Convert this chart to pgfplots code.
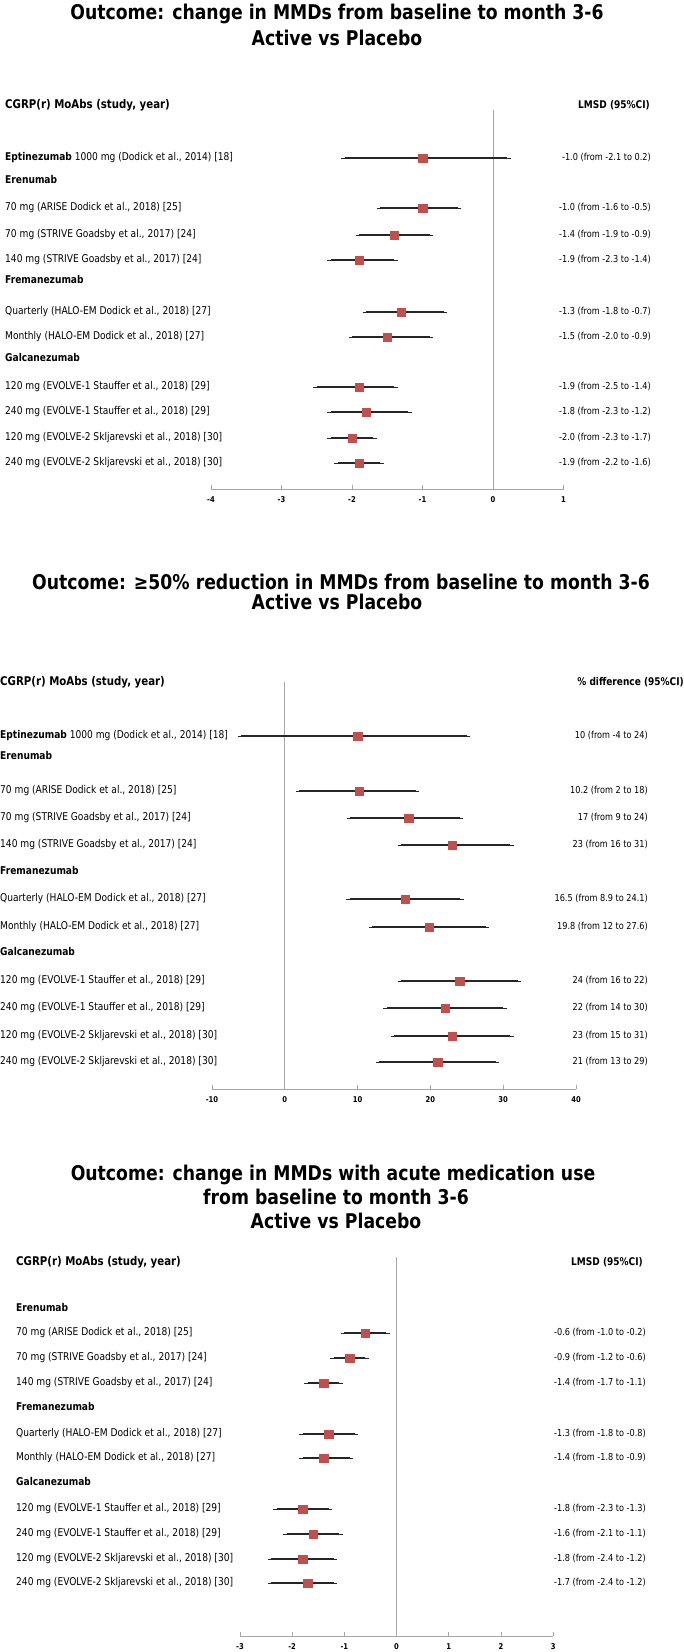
\documentclass[border=0pt]{standalone}
\usepackage{fontspec}
\setmainfont{DejaVu Sans}[FakeStretch=0.85]
\usepackage{pgfplots}
\usepackage{pgfplotstable}
\pgfplotsset{compat=1.18}

\definecolor{mk}{HTML}{C0504D}
\definecolor{ax}{HTML}{A6A6A6}
\definecolor{eb}{HTML}{262626}

% y = row position (pt from top, negative), est / lo / hi as drawn
\pgfplotstableread{
y est lo hi
-158 -1.0 -2.1 0.2
-208 -1.0 -1.6 -0.5
-235 -1.4 -1.9 -0.9
-260 -1.9 -2.3 -1.4
-312 -1.3 -1.8 -0.7
-337 -1.5 -2.0 -0.9
-387 -1.9 -2.5 -1.4
-412 -1.8 -2.3 -1.2
-438 -2.0 -2.3 -1.7
-463 -1.9 -2.2 -1.6
}\tabA

\pgfplotstableread{
y est lo hi
-736 10 -6 25
-791 10.2 2 18
-818 17 9 24
-845 23 16 31
-899 16.5 8.9 24.1
-927 19.8 12 27.6
-981 24 16 32
-1008 22 14 30
-1036 23 15 31
-1062 21 13 29
}\tabB

\pgfplotstableread{
y est lo hi
-1333 -0.6 -1.0 -0.2
-1358 -0.9 -1.2 -0.6
-1383 -1.4 -1.7 -1.1
-1434 -1.3 -1.8 -0.8
-1458 -1.4 -1.8 -0.9
-1509 -1.8 -2.3 -1.3
-1534 -1.6 -2.1 -1.1
-1559 -1.8 -2.4 -1.2
-1583 -1.7 -2.4 -1.2
}\tabC

\pgfplotsset{
  forest/.style={
    anchor=south west, y=1pt, enlargelimits=false, clip=false,
    axis x line=bottom, axis y line=none,
    axis line style={ax, line width=1pt, -},
    tick align=inside, major tick length=4pt,
    xtick style={ax, line width=1pt},
    xticklabel style={font=\fontsize{8}{9}\selectfont\bfseries, inner sep=2.5pt, yshift=-5pt},
  },
  ci/.style={
    only marks, mark=square*, mark size=4.2pt,
    mark options={fill=mk, draw=mk},
    error bars/x dir=both, error bars/x explicit,
    error bars/error bar style={eb, line width=1.2pt},
    error bars/error mark options={eb, line width=1pt, mark size=3.5pt},
  },
}

\newcommand\ciplot[1]{%
  \addplot[ci] table[x=est, y=y,
    x error plus expr=\thisrow{hi}-\thisrow{est},
    x error minus expr=\thisrow{est}-\thisrow{lo}] {#1};}

\begin{document}
\begin{tikzpicture}
\path[use as bounding box] (0,0) rectangle (684pt,-1652pt);

% panel 1
\begin{axis}[forest, at={(211pt,-489pt)}, x=70.5pt,
  xmin=-4, xmax=1, ymin=-489, ymax=-110,
  xtick={-4,-3,-2,-1,0,1}, xticklabels={-4,-3,-2,-1,0,1}]
\addplot[ax, line width=1pt] coordinates {(0,-489) (0,-110)};
\ciplot{\tabA}
\end{axis}

% panel 2
\begin{axis}[forest, at={(212pt,-1089pt)}, x=7.28pt,
  xmin=-10, xmax=40, ymin=-1089, ymax=-682,
  xtick={-10,0,10,20,30,40}, xticklabels={-10,0,10,20,30,40}]
\addplot[ax, line width=1pt] coordinates {(0,-1089) (0,-682)};
\ciplot{\tabB}
\end{axis}

% panel 3
\begin{axis}[forest, at={(240pt,-1636pt)}, x=52.2pt,
  xmin=-3, xmax=3, ymin=-1636, ymax=-1257,
  xtick={-3,-2,-1,0,1,2,3}, xticklabels={-3,-2,-1,0,1,2,3}]
\addplot[ax, line width=1pt] coordinates {(0,-1636) (0,-1257)};
\ciplot{\tabC}
\end{axis}

\begin{scope}[x=1pt, y=1pt, every node/.style={inner sep=0pt, text height=7.5pt, text depth=2pt}]
\def\tf{\fontsize{20.3}{23}\selectfont\bfseries}
\def\hf{\fontsize{12}{14}\selectfont\bfseries}
\def\hr{\fontsize{10.6}{12}\selectfont\bfseries}
\def\rf{\fontsize{10.7}{12}\selectfont}
\def\vf{\fontsize{9.6}{11}\selectfont}

% titles
\node[font=\tf, text height=15pt, text depth=4pt] at (337,-14) {Outcome: change in MMDs from baseline to month 3-6};
\node[font=\tf, text height=15pt, text depth=4pt] at (337,-40) {Active vs Placebo};
\node[font=\tf, text height=15pt, text depth=4pt] at (341,-584) {Outcome: ≥50\% reduction in MMDs from baseline to month 3-6};
\node[font=\tf, text height=15pt, text depth=4pt] at (337,-604) {Active vs Placebo};
\node[font=\tf, text height=15pt, text depth=4pt] at (333,-1175) {Outcome: change in MMDs with acute medication use};
\node[font=\tf, text height=15pt, text depth=4pt] at (336,-1199) {from baseline to month 3-6};
\node[font=\tf, text height=15pt, text depth=4pt] at (336,-1223) {Active vs Placebo};

% column headers
\node[font=\hf, anchor=west] at (5,-106) {CGRP(r) MoAbs (study, year)};
\node[font=\hr, anchor=east] at (650,-106) {LMSD (95\%CI)};
\node[font=\hf, anchor=west] at (0,-683) {CGRP(r) MoAbs (study, year)};
\node[font=\hr, anchor=east] at (684,-683) {\% difference (95\%CI)};
\node[font=\hf, anchor=west] at (16,-1263) {CGRP(r) MoAbs (study, year)};
\node[font=\hr, anchor=east] at (643,-1263) {LMSD (95\%CI)};

% panel 1 rows
\foreach \yy/\txt in {
  158/{\textbf{Eptinezumab} 1000 mg (Dodick et al., 2014) [18]},
  181/{\textbf{Erenumab}},
  208/{70 mg (ARISE Dodick et al., 2018) [25]},
  235/{70 mg (STRIVE Goadsby et al., 2017) [24]},
  260/{140 mg (STRIVE Goadsby et al., 2017) [24]},
  281/{\textbf{Fremanezumab}},
  312/{Quarterly (HALO-EM Dodick et al., 2018) [27]},
  337/{Monthly (HALO-EM Dodick et al., 2018) [27]},
  359/{\textbf{Galcanezumab}},
  387/{120 mg (EVOLVE-1 Stauffer et al., 2018) [29]},
  412/{240 mg (EVOLVE-1 Stauffer et al., 2018) [29]},
  438/{120 mg (EVOLVE-2 Skljarevski et al., 2018) [30]},
  463/{240 mg (EVOLVE-2 Skljarevski et al., 2018) [30]}}
  \node[font=\rf, anchor=west] at (5,-\yy) {\txt};
\foreach \yy/\txt in {
  158/{-1.0 (from -2.1 to 0.2)},
  208/{-1.0 (from -1.6 to -0.5)},
  235/{-1.4 (from -1.9 to -0.9)},
  260/{-1.9 (from -2.3 to -1.4)},
  312/{-1.3 (from -1.8 to -0.7)},
  337/{-1.5 (from -2.0 to -0.9)},
  387/{-1.9 (from -2.5 to -1.4)},
  412/{-1.8 (from -2.3 to -1.2)},
  438/{-2.0 (from -2.3 to -1.7)},
  463/{-1.9 (from -2.2 to -1.6)}}
  \node[font=\vf, anchor=east] at (651,-\yy) {\txt};

% panel 2 rows
\foreach \yy/\txt in {
  736/{\textbf{Eptinezumab} 1000 mg (Dodick et al., 2014) [18]},
  757/{\textbf{Erenumab}},
  791/{70 mg (ARISE Dodick et al., 2018) [25]},
  818/{70 mg (STRIVE Goadsby et al., 2017) [24]},
  845/{140 mg (STRIVE Goadsby et al., 2017) [24]},
  872/{\textbf{Fremanezumab}},
  899/{Quarterly (HALO-EM Dodick et al., 2018) [27]},
  927/{Monthly (HALO-EM Dodick et al., 2018) [27]},
  953/{\textbf{Galcanezumab}},
  981/{120 mg (EVOLVE-1 Stauffer et al., 2018) [29]},
  1008/{240 mg (EVOLVE-1 Stauffer et al., 2018) [29]},
  1036/{120 mg (EVOLVE-2 Skljarevski et al., 2018) [30]},
  1062/{240 mg (EVOLVE-2 Skljarevski et al., 2018) [30]}}
  \node[font=\rf, anchor=west] at (0,-\yy) {\txt};
\foreach \yy/\txt in {
  736/{10 (from -4 to 24)},
  791/{10.2 (from 2 to 18)},
  818/{17 (from 9 to 24)},
  845/{23 (from 16 to 31)},
  899/{16.5 (from 8.9 to 24.1)},
  927/{19.8 (from 12 to 27.6)},
  981/{24 (from 16 to 22)},
  1008/{22 (from 14 to 30)},
  1036/{23 (from 15 to 31)},
  1062/{21 (from 13 to 29)}}
  \node[font=\vf, anchor=east] at (648,-\yy) {\txt};

% panel 3 rows
\foreach \yy/\txt in {
  1309/{\textbf{Erenumab}},
  1333/{70 mg (ARISE Dodick et al., 2018) [25]},
  1358/{70 mg (STRIVE Goadsby et al., 2017) [24]},
  1383/{140 mg (STRIVE Goadsby et al., 2017) [24]},
  1408/{\textbf{Fremanezumab}},
  1434/{Quarterly (HALO-EM Dodick et al., 2018) [27]},
  1458/{Monthly (HALO-EM Dodick et al., 2018) [27]},
  1483/{\textbf{Galcanezumab}},
  1509/{120 mg (EVOLVE-1 Stauffer et al., 2018) [29]},
  1534/{240 mg (EVOLVE-1 Stauffer et al., 2018) [29]},
  1559/{120 mg (EVOLVE-2 Skljarevski et al., 2018) [30]},
  1583/{240 mg (EVOLVE-2 Skljarevski et al., 2018) [30]}}
  \node[font=\rf, anchor=west] at (16,-\yy) {\txt};
\foreach \yy/\txt in {
  1333/{-0.6 (from -1.0 to -0.2)},
  1358/{-0.9 (from -1.2 to -0.6)},
  1383/{-1.4 (from -1.7 to -1.1)},
  1434/{-1.3 (from -1.8 to -0.8)},
  1458/{-1.4 (from -1.8 to -0.9)},
  1509/{-1.8 (from -2.3 to -1.3)},
  1534/{-1.6 (from -2.1 to -1.1)},
  1559/{-1.8 (from -2.4 to -1.2)},
  1583/{-1.7 (from -2.4 to -1.2)}}
  \node[font=\vf, anchor=east] at (646,-\yy) {\txt};
\end{scope}
\end{tikzpicture}
\end{document}
